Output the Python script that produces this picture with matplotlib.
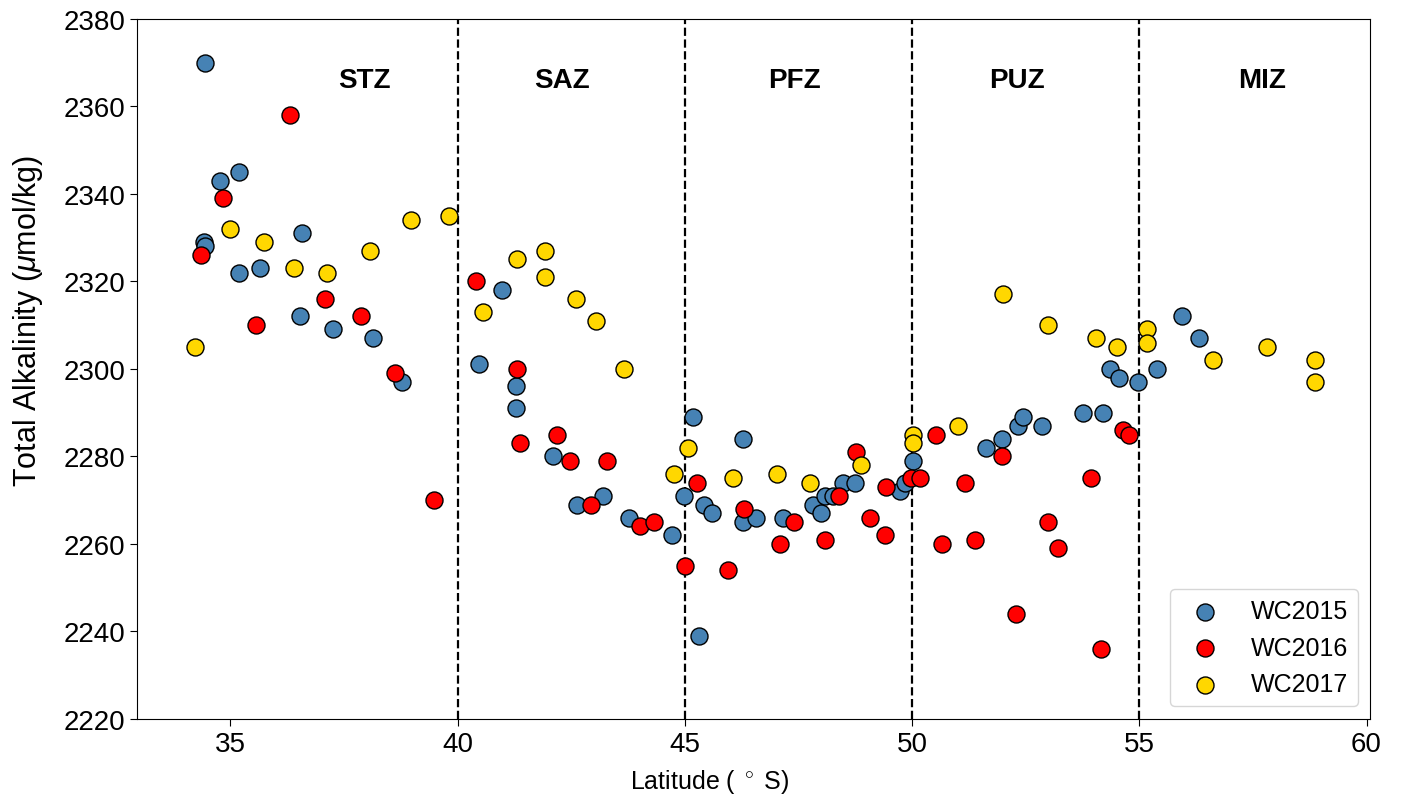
import matplotlib
matplotlib.use("Agg")
import matplotlib.pyplot as plt

plt.rcParams['font.family'] = ['Liberation Sans', 'DejaVu Sans']
plt.rcParams['mathtext.fontset'] = 'custom'
plt.rcParams['mathtext.rm'] = 'Liberation Sans'
plt.rcParams['mathtext.it'] = 'Liberation Sans:italic'

# Total alkalinity samples along the transect, one cruise per year
lat_2015 = [34.44, 34.77, 35.19, 34.42, 34.44, 35.19, 35.65, 36.58, 36.53, 37.26,
            38.13, 38.77, 40.97, 40.48, 41.28, 41.28, 42.09, 42.63, 43.19, 43.76,
            44.71, 45.17, 46.27, 44.98, 45.41, 45.60, 46.27, 46.57, 47.16, 45.30,
            47.83, 47.99, 48.08, 48.26, 48.47, 48.74, 49.74, 49.85, 50.02, 51.63,
            51.97, 52.32, 52.44, 52.86, 53.75, 54.21, 54.35, 54.55, 54.98, 55.39,
            55.95, 56.32]
ta_2015 = [2370, 2343, 2345, 2329, 2328, 2322, 2323, 2331, 2312, 2309,
           2307, 2297, 2318, 2301, 2296, 2291, 2280, 2269, 2271, 2266,
           2262, 2289, 2284, 2271, 2269, 2267, 2265, 2266, 2266, 2239,
           2269, 2267, 2271, 2271, 2274, 2274, 2272, 2274, 2279, 2282,
           2284, 2287, 2289, 2287, 2290, 2290, 2300, 2298, 2297, 2300,
           2312, 2307]

lat_2016 = [36.31, 34.83, 34.35, 35.56, 37.08, 37.87, 38.62, 39.49, 40.41, 41.30,
            41.38, 42.18, 42.47, 43.29, 42.94, 44.02, 44.31, 45.26, 45.00, 45.94,
            46.30, 47.10, 47.39, 48.09, 48.40, 48.76, 49.08, 49.40, 49.43, 49.97,
            50.18, 50.53, 50.66, 51.17, 51.39, 51.98, 53.00, 53.20, 52.29, 53.93,
            54.16, 54.63, 54.77]
ta_2016 = [2358, 2339, 2326, 2310, 2316, 2312, 2299, 2270, 2320, 2300,
           2283, 2285, 2279, 2279, 2269, 2264, 2265, 2274, 2255, 2254,
           2268, 2260, 2265, 2261, 2271, 2281, 2266, 2262, 2273, 2275,
           2275, 2285, 2260, 2274, 2261, 2280, 2265, 2259, 2244, 2275,
           2236, 2286, 2285]

lat_2017 = [34.22, 34.99, 35.74, 36.39, 37.12, 38.06, 38.97, 39.80, 40.55, 41.30,
            41.93, 41.93, 42.61, 43.04, 43.65, 44.75, 45.07, 46.06, 47.03, 47.76,
            48.87, 50.01, 50.01, 51.00, 52.00, 52.99, 54.04, 54.51, 55.17, 55.17,
            56.63, 57.80, 58.87, 58.87]
ta_2017 = [2305, 2332, 2329, 2323, 2322, 2327, 2334, 2335, 2313, 2325,
           2327, 2321, 2316, 2311, 2300, 2276, 2282, 2275, 2276, 2274,
           2278, 2285, 2283, 2287, 2317, 2310, 2307, 2305, 2309, 2306,
           2302, 2305, 2302, 2297]

# frontal boundaries and zone names
fronts = [40, 45, 50, 55]
zone_names = ['STZ', 'SAZ', 'PFZ', 'PUZ', 'MIZ']
zone_x = [37.95, 42.3, 47.4, 52.3, 57.7]

fig = plt.figure(figsize=(14.01, 8.03), dpi=100)
ax = fig.add_axes([0.098, 0.1034, 0.88, 0.872])

for f in fronts:
    ax.axvline(f, color='black', linestyle='--', linewidth=1.6, zorder=1)

ax.scatter(lat_2015, ta_2015, s=150, c='steelblue', edgecolors='black',
           linewidths=1.0, label='WC2015', zorder=3)
ax.scatter(lat_2016, ta_2016, s=150, c='red', edgecolors='black',
           linewidths=1.0, label='WC2016', zorder=3)
ax.scatter(lat_2017, ta_2017, s=150, c='gold', edgecolors='black',
           linewidths=1.0, label='WC2017', zorder=3)

for name, x in zip(zone_names, zone_x):
    ax.text(x, 2366, name, fontsize=20, fontweight='bold',
            ha='center', va='center')

ax.set_xlim(32.95, 60.08)
ax.set_ylim(2220, 2380)
ax.set_xticks([35, 40, 45, 50, 55, 60])
ax.set_yticks(range(2220, 2381, 20))
ax.tick_params(labelsize=20, length=5)

ax.set_xlabel(r'Latitude ( $^\circ$ S)', fontsize=18)
ax.set_ylabel(r'Total Alkalinity ($\mu$mol/kg)', fontsize=22)
ax.xaxis.set_label_coords(0.464, -0.068)
ax.yaxis.set_label_coords(-0.075, 0.57)

ax.legend(loc='lower right', fontsize=18, scatterpoints=1)

fig.savefig('out.png', dpi=100)
